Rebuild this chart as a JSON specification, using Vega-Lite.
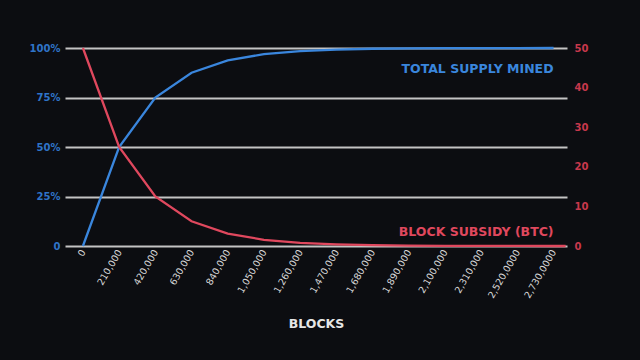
{
  "$schema": "https://vega.github.io/schema/vega-lite/v6.json",
  "width": 502,
  "height": 198,
  "autosize": "none",
  "padding": {"left": 65, "top": 48, "right": 73, "bottom": 114},
  "background": "#0c0d11",
  "config": {"view": {"stroke": null}, "font": "DejaVu Sans"},
  "data": {
    "values": [
      {"block": 0, "supply": 0, "subsidy": 50},
      {"block": 210000, "supply": 50, "subsidy": 25},
      {"block": 420000, "supply": 75, "subsidy": 12.5},
      {"block": 630000, "supply": 87.5, "subsidy": 6.25},
      {"block": 840000, "supply": 93.75, "subsidy": 3.125},
      {"block": 1050000, "supply": 96.88, "subsidy": 1.5625},
      {"block": 1260000, "supply": 98.44, "subsidy": 0.78},
      {"block": 1470000, "supply": 99.22, "subsidy": 0.39},
      {"block": 1680000, "supply": 99.61, "subsidy": 0.2},
      {"block": 1890000, "supply": 99.8, "subsidy": 0.1},
      {"block": 2100000, "supply": 99.9, "subsidy": 0.05},
      {"block": 2310000, "supply": 99.95, "subsidy": 0.02},
      {"block": 2520000, "supply": 99.98, "subsidy": 0.01},
      {"block": 2730000, "supply": 99.99, "subsidy": 0.005},
      {"block": 2800000, "supply": null, "subsidy": 0}
    ]
  },
  "layer": [
    {
      "layer": [
        {
          "mark": {"type": "line", "color": "#3a86dd", "strokeWidth": 2.3},
          "encoding": {
            "x": {
              "field": "block",
              "type": "quantitative",
              "scale": {"domain": [-104000, 2808000], "nice": false, "zero": false},
              "axis": {
                "values": [0, 210000, 420000, 630000, 840000, 1050000, 1260000, 1470000, 1680000, 1890000, 2100000, 2310000, 2520000, 2730000],
                "tickCount": 30,
                "labelExpr": "datum.value >= 2520000 ? format(datum.value, ',') + '0' : format(datum.value, ',')",
                "labelAngle": -60,
                "labelOverlap": false,
                "labelBound": false,
                "labelFlush": false,
                "labelColor": "#d8d8d8",
                "labelFontSize": 9.5,
                "labelPadding": 4,
                "domain": false,
                "ticks": false,
                "grid": false,
                "title": "BLOCKS",
                "titleColor": "#e6e6e6",
                "titleFont": "DejaVu Sans",
                "titleFontSize": 12.5,
                "titleFontWeight": "bold",
                "titlePadding": 18
              }
            },
            "y": {
              "field": "supply",
              "type": "quantitative",
              "scale": {"domain": [0, 100]},
              "axis": {
                "values": [0, 25, 50, 75, 100],
                "tickCount": 10,
                "labelExpr": "datum.value == 0 ? '0' : datum.value + '%'",
                "labelOverlap": false,
                "labelFlush": false,
                "labelColor": "#2f74c8",
                "labelFontSize": 10,
                "labelFontWeight": "bold",
                "labelPadding": 5,
                "domain": false,
                "ticks": false,
                "grid": true,
                "gridColor": "#c4c4c4",
                "gridWidth": 1.8,
                "title": null
              }
            }
          }
        },
        {
          "data": {"values": [{}]},
          "mark": {"type": "text", "align": "right", "baseline": "middle", "color": "#3a86dd", "fontSize": 12.5, "fontWeight": "bold", "font": "DejaVu Sans"},
          "encoding": {
            "x": {"datum": 2730000, "type": "quantitative"},
            "y": {"datum": 89.5, "type": "quantitative"},
            "text": {"value": "TOTAL SUPPLY MINED"}
          }
        }
      ]
    },
    {
      "layer": [
        {
          "mark": {"type": "line", "color": "#e0485e", "strokeWidth": 2.3},
          "encoding": {
            "x": {"field": "block", "type": "quantitative"},
            "y": {
              "field": "subsidy",
              "type": "quantitative",
              "scale": {"domain": [0, 50]},
              "axis": {
                "orient": "right",
                "values": [0, 10, 20, 30, 40, 50],
                "tickCount": 12,
                "labelOverlap": false,
                "labelFlush": false,
                "labelColor": "#c8384c",
                "labelFontSize": 10,
                "labelFontWeight": "bold",
                "labelPadding": 7,
                "domain": false,
                "ticks": false,
                "grid": false,
                "title": null
              }
            }
          }
        },
        {
          "data": {"values": [{}]},
          "mark": {"type": "text", "align": "right", "baseline": "middle", "color": "#e0485e", "fontSize": 12.5, "fontWeight": "bold", "font": "DejaVu Sans"},
          "encoding": {
            "x": {"datum": 2730000, "type": "quantitative"},
            "y": {"datum": 3.5, "type": "quantitative"},
            "text": {"value": "BLOCK SUBSIDY (BTC)"}
          }
        }
      ]
    }
  ],
  "resolve": {"scale": {"y": "independent"}}
}
